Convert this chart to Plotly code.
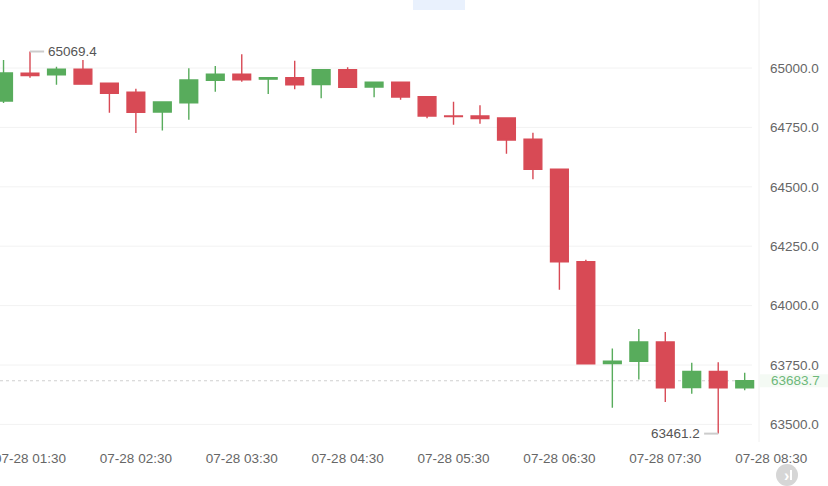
import plotly.graph_objects as go
import pandas as pd

times = pd.date_range("2024-07-28 01:15", periods=29, freq="15min")
opens  = [64861, 64978, 64971, 64995, 64936, 64898, 64815, 64854, 64948, 64974, 64953,
          64959, 64930, 64993, 64920, 64940, 64879, 64798, 64798, 64790, 64700, 64574,
          64185, 63756, 63766, 63847, 63655, 63723, 63654]
closes = [64979, 64968, 64995, 64932, 64894, 64814, 64857, 64950, 64974, 64950, 64959,
          64929, 64993, 64919, 64940, 64878, 64798, 64796, 64787, 64697, 64574, 64184,
          63755, 63766, 63847, 63654, 63723, 63654, 63683.7]
highs  = [65034, 65069.4, 65005, 65034, 64937, 64913, 64858, 64999, 65008, 65058, 64960,
          65031, 64994, 65003, 64941, 64941, 64880, 64858, 64843, 64790, 64728, 64574,
          64193, 63819, 63902, 63889, 63759, 63762, 63717]
lows   = [64853, 64959, 64929, 64931, 64812, 64726, 64737, 64782, 64900, 64942, 64891,
          64911, 64873, 64918, 64877, 64866, 64789, 64761, 64765, 64639, 64532, 64067,
          63755, 63570, 63689, 63594, 63629, 63461.2, 63644]

y_ticks = [63500, 63750, 64000, 64250, 64500, 64750, 65000]
max_label = "65069.4"
min_label = "63461.2"
last_price = 63683.7

GREEN = "#58ac5c"
RED = "#d84a55"
W, H = 828, 486
dom_r = 759 / W

fig = go.Figure()
fig.add_trace(go.Candlestick(
    x=times, open=opens, high=highs, low=lows, close=closes,
    increasing=dict(line=dict(color=GREEN, width=1.4), fillcolor=GREEN),
    decreasing=dict(line=dict(color=RED, width=1.4), fillcolor=RED),
    hoverinfo="skip", showlegend=False, xaxis="x", yaxis="y",
))
# dummy trace for the label axis
fig.add_trace(go.Scatter(x=[times[5]], y=[y_ticks[0]], mode="markers",
                         marker=dict(opacity=0), hoverinfo="skip",
                         showlegend=False, xaxis="x2", yaxis="y"))

t0 = pd.Timestamp("2024-07-28 01:30")
px_per_15 = 26.47
def t_at(px):
    return t0 + pd.Timedelta(minutes=(px - 30) / px_per_15 * 15)

ppu = 0.2376
top_v = 65000 + 68 / ppu
bot_v = 65000 - (442 - 68) / ppu

shapes = [
    dict(type="line", xref="paper", x0=0, x1=752 / W, yref="y", y0=v, y1=v,
         line=dict(color="#f2f2f2", width=1), layer="below")
    for v in y_ticks
]
shapes += [
    # axis separator
    dict(type="line", xref="paper", x0=dom_r, x1=dom_r, yref="paper", y0=0, y1=1,
         line=dict(color="#f0f0f0", width=1), layer="below"),
    # highlight behind last price label
    dict(type="rect", xref="paper", x0=dom_r + 0.001, x1=1, yref="y",
         y0=last_price - 27, y1=last_price + 27, fillcolor="#f4faf4",
         line=dict(width=0), layer="below"),
    # current price dashed line
    dict(type="line", xref="paper", x0=0, x1=dom_r - 0.008, yref="y",
         y0=last_price, y1=last_price, line=dict(color="#cfcfcf", width=1, dash="dot"),
         layer="below"),
    # max marker line
    dict(type="line", xref="x", x0=times[1], x1=times[1] + pd.Timedelta(minutes=8),
         yref="y", y0=highs[1], y1=highs[1], line=dict(color="#cccccc", width=2)),
    # min marker line
    dict(type="line", xref="x", x0=times[27] - pd.Timedelta(minutes=8), x1=times[27],
         yref="y", y0=lows[27], y1=lows[27], line=dict(color="#cccccc", width=2)),
    # top blue tab
    dict(type="rect", xref="paper", yref="paper", x0=413 / W, x1=465 / W,
         y0=1.0, y1=1.0 - 10 / 442, fillcolor="#e9f1fd", line=dict(width=0)),
    # bottom-right button
    dict(type="circle", xref="paper", yref="paper",
         x0=776 / W, x1=798 / W, y0=-(464 - 442) / 442, y1=-(486 - 442) / 442,
         fillcolor="#d6d6d6", line=dict(width=0)),
    # button icon: bar
    dict(type="line", xref="paper", yref="paper",
         x0=791 / W, x1=791 / W, y0=-(470 - 442) / 442, y1=-(480 - 442) / 442,
         line=dict(color="white", width=2)),
]

fig.update_layout(
    width=W, height=H,
    margin=dict(l=0, r=0, t=0, b=44, autoexpand=False),
    paper_bgcolor="white", plot_bgcolor="rgba(0,0,0,0)",
    boxgap=0.33, boxgroupgap=0,
    font=dict(family="Liberation Sans, Arial, sans-serif", size=13.5, color="#666666"),
    xaxis=dict(domain=[0, dom_r], range=[t_at(0), t_at(759)], showticklabels=False,
               showgrid=False, zeroline=False, rangeslider=dict(visible=False),
               fixedrange=True, automargin=False),
    xaxis2=dict(domain=[0, 1], range=[t_at(0), t_at(W)], anchor="y",
                tickformat="%m-%d %H:%M", dtick=3600000, tick0="2024-07-28 01:30",
                showgrid=False, zeroline=False, ticks="", ticklabelstandoff=6,
                ticklabeloverflow="allow", automargin=False,
                tickfont=dict(size=13.5, color="#666666")),
    yaxis=dict(range=[bot_v, top_v], side="right", anchor="x",
               tickvals=y_ticks, ticktext=[f"{v:.1f}" for v in y_ticks],
               showgrid=False, zeroline=False, showline=False, automargin=False,
               ticks="", ticklabelstandoff=10, ticklabeloverflow="allow",
               tickfont=dict(size=13.5, color="#666666")),
    shapes=shapes,
    annotations=[
        dict(x=times[1] + pd.Timedelta(minutes=9), y=highs[1], xref="x", yref="y",
             text=max_label, showarrow=False, xanchor="left", yanchor="middle",
             font=dict(size=13.5, color="#555555")),
        dict(x=times[27] - pd.Timedelta(minutes=9), y=lows[27], xref="x", yref="y",
             text=min_label, showarrow=False, xanchor="right", yanchor="middle",
             font=dict(size=13.5, color="#555555")),
        dict(x=769 / W, y=last_price, xref="paper", yref="y", text=f"{last_price:.1f}",
             showarrow=False, xanchor="left", yanchor="middle",
             font=dict(size=13.5, color="#6db87a")),
        dict(x=786 / W, y=-(475 - 442) / 442, xref="paper", yref="paper", text="<b>›</b>",
             showarrow=False, xanchor="center", yanchor="middle",
             font=dict(size=16, color="white")),
    ],
)

fig.write_html("out.html")
